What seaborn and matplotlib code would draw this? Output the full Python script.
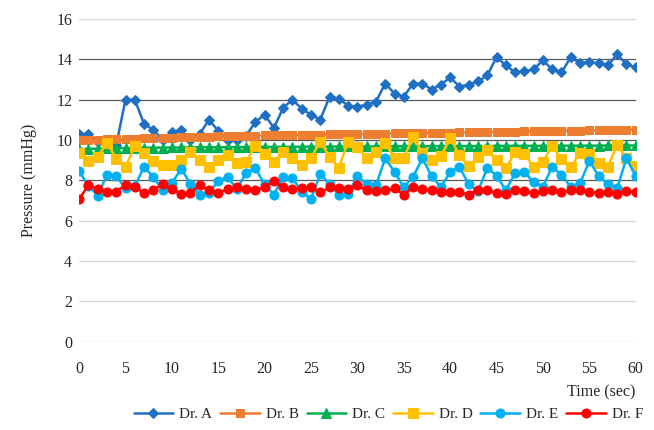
import numpy as np
import pandas as pd
import matplotlib
matplotlib.use('Agg')
import matplotlib.pyplot as plt
import seaborn as sns

# ==========================================
# DATA
# ==========================================
time_sec = list(range(0, 61))

dr_a = [10.3, 10.3, 9.9, 9.8, 9.75, 12.0, 12.0, 10.8, 10.5, 10.0,
        10.4, 10.5, 10.0, 10.3, 11.0, 10.45, 10.0, 10.0, 10.2, 10.9,
        11.25, 10.6, 11.6, 12.0, 11.55, 11.25, 11.0, 12.15, 12.05, 11.7,
        11.65, 11.75, 11.9, 12.8, 12.3, 12.15, 12.8, 12.8, 12.5, 12.75,
        13.1, 12.65, 12.75, 12.9, 13.2, 14.1, 13.7, 13.35, 13.4, 13.5,
        13.95, 13.5, 13.35, 14.1, 13.8, 13.85, 13.8, 13.7, 14.25, 13.75, 13.6]

dr_b = [10.0, 10.0, 10.02, 10.03, 10.05, 10.05, 10.07, 10.08, 10.1, 10.1,
        10.12, 10.13, 10.15, 10.15, 10.17, 10.18, 10.2, 10.2, 10.2, 10.22,
        10.23, 10.23, 10.25, 10.25, 10.25, 10.27, 10.27, 10.28, 10.28, 10.3,
        10.3, 10.3, 10.32, 10.32, 10.33, 10.33, 10.35, 10.35, 10.35, 10.37,
        10.37, 10.38, 10.38, 10.4, 10.4, 10.4, 10.42, 10.42, 10.43, 10.43,
        10.45, 10.45, 10.45, 10.47, 10.47, 10.48, 10.48, 10.5, 10.5, 10.5, 10.52]

dr_c = [9.55, 9.56, 9.57, 9.58, 9.6, 9.6, 9.6, 9.61, 9.62, 9.62,
        9.63, 9.63, 9.63, 9.64, 9.64, 9.64, 9.65, 9.65, 9.65, 9.65,
        9.66, 9.66, 9.66, 9.66, 9.67, 9.67, 9.67, 9.67, 9.68, 9.68,
        9.68, 9.68, 9.68, 9.69, 9.69, 9.69, 9.69, 9.69, 9.7, 9.7,
        9.7, 9.7, 9.7, 9.7, 9.7, 9.71, 9.71, 9.71, 9.71, 9.71,
        9.71, 9.72, 9.72, 9.72, 9.72, 9.72, 9.72, 9.73, 9.73, 9.73, 9.73]

dr_d = [9.37, 8.95, 9.17, 9.87, 9.08, 8.67, 9.7, 9.37, 8.97, 8.75,
        8.75, 9.0, 9.42, 9.0, 8.67, 9.0, 9.25, 8.87, 8.92, 9.7,
        9.3, 8.92, 9.42, 9.12, 8.75, 9.12, 9.92, 9.17, 8.63, 9.92,
        9.63, 9.12, 9.42, 9.83, 9.12, 9.12, 10.15, 9.37, 9.0, 9.2,
        10.1, 9.25, 8.7, 9.17, 9.5, 9.0, 8.6, 9.4, 9.33, 8.65,
        8.93, 9.7, 9.05, 8.65, 9.37, 9.3, 8.85, 8.68, 9.75, 9.12, 8.7]

dr_e = [8.46, 7.72, 7.25, 8.27, 8.2, 7.62, 7.7, 8.68, 8.15, 7.52,
        7.86, 8.58, 7.83, 7.3, 7.38, 7.97, 8.18, 7.56, 8.37, 8.6,
        7.8, 7.3, 8.17, 8.13, 7.42, 7.08, 8.33, 7.8, 7.3, 7.33,
        8.2, 7.83, 7.75, 9.1, 8.42, 7.67, 8.17, 9.1, 8.2, 7.67,
        8.4, 8.68, 7.8, 7.45, 8.63, 8.23, 7.52, 8.35, 8.43, 7.9,
        7.69, 8.68, 8.27, 7.69, 7.85, 8.96, 8.23, 7.8, 7.6, 9.09, 8.23]

dr_f = [7.06, 7.77, 7.56, 7.44, 7.44, 7.77, 7.69, 7.36, 7.52, 7.82,
        7.56, 7.33, 7.39, 7.77, 7.5, 7.39, 7.56, 7.69, 7.56, 7.5,
        7.66, 7.95, 7.65, 7.55, 7.6, 7.65, 7.4, 7.65, 7.6, 7.55,
        7.75, 7.5, 7.45, 7.5, 7.6, 7.3, 7.65, 7.55, 7.5, 7.4,
        7.42, 7.42, 7.3, 7.54, 7.5, 7.39, 7.34, 7.54, 7.46, 7.37,
        7.46, 7.5, 7.42, 7.5, 7.5, 7.42, 7.37, 7.42, 7.34, 7.46, 7.42]

series_names = ['Dr. A', 'Dr. B', 'Dr. C', 'Dr. D', 'Dr. E', 'Dr. F']
series_values = [dr_a, dr_b, dr_c, dr_d, dr_e, dr_f]

y_ticks = [0, 2, 4, 6, 8, 10, 12, 14, 16]
x_ticks = [0, 5, 10, 15, 20, 25, 30, 35, 40, 45, 50, 55, 60]

# ==========================================
# STYLE
# ==========================================
colors = ['#1F6FC5', '#ED7D31', '#00B050', '#FFC000', '#00B0F0', '#FF0000']
markers = ['D', 's', '^', 's', 'o', 'o']
msizes = [5, 6, 7, 7, 6.5, 6.5]

sns.set_style('white')
plt.rcParams['font.family'] = ['Liberation Serif', 'DejaVu Serif']

df = pd.DataFrame({'Time': time_sec})
for name, vals in zip(series_names, series_values):
    df[name] = vals

fig = plt.figure(figsize=(6.54, 4.30), dpi=100)
ax = fig.add_axes([0.121, 0.205, 0.851, 0.751])

# Gridlines (8-14 are drawn darker in the original)
for yv in y_ticks:
    if yv in (8, 10, 12, 14):
        ax.axhline(yv, color='#595959', linewidth=0.9, zorder=0)
    else:
        ax.axhline(yv, color='#D9D9D9', linewidth=1.0, zorder=0)

for name, c, m, ms in zip(series_names, colors, markers, msizes):
    sns.lineplot(data=df, x='Time', y=name, ax=ax, color=c, marker=m,
                 markersize=ms, markeredgecolor=c, linewidth=1.8,
                 label=name, legend=False, zorder=3)

ax.set_xlim(0, 60)
ax.set_ylim(0, 16)
ax.set_xticks(x_ticks)
ax.set_yticks(y_ticks)
ax.tick_params(axis='both', length=0, labelsize=11.5)
ax.tick_params(axis='y', pad=5)
ax.tick_params(axis='x', pad=14)
for s in ax.spines.values():
    s.set_visible(False)

ax.set_ylabel('Pressure (mmHg)', fontsize=11.5, labelpad=14)
ax.set_xlabel('Time (sec)', fontsize=11.5, loc='right', labelpad=5)

handles, labels = ax.get_legend_handles_labels()
fig.legend(handles, labels, loc='lower center', bbox_to_anchor=(0.594, -0.012),
           ncol=6, frameon=False, fontsize=11, handlelength=2.6,
           columnspacing=0.5, handletextpad=0.4)

fig.savefig('out.png', dpi=100)
